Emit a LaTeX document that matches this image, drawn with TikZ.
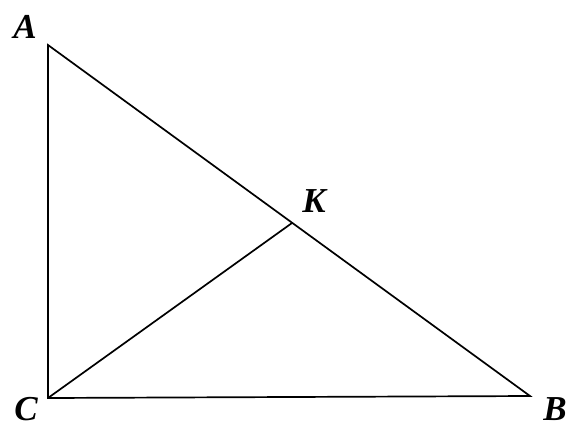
\documentclass[tikz,border=0pt]{standalone}
\usepackage{fontspec}
\setmainfont{Liberation Serif}
\begin{document}
\begin{tikzpicture}[x=1pt,y=-1pt,
  seg/.style={line width=1.7pt,black},
  lbl/.style={font=\fontsize{35}{40}\selectfont\bfseries\itshape,inner sep=0pt,anchor=base}]
\useasboundingbox (0,0) rectangle (567,429);
\coordinate (A) at (48,45);
\coordinate (C) at (48,398);
\coordinate (B) at (530,396);
\coordinate (K) at (292,223);
\draw[seg] (A) -- (C) -- (B) -- cycle;
\draw[seg] (C) -- (K);
\node[lbl] (lA) at (25,38) {A};
\node[lbl] (lK) at (314,212) {K};
\node[lbl] (lC) at (26,420) {C};
\node[lbl] (lB) at (555,420) {B};
\end{tikzpicture}
\end{document}
